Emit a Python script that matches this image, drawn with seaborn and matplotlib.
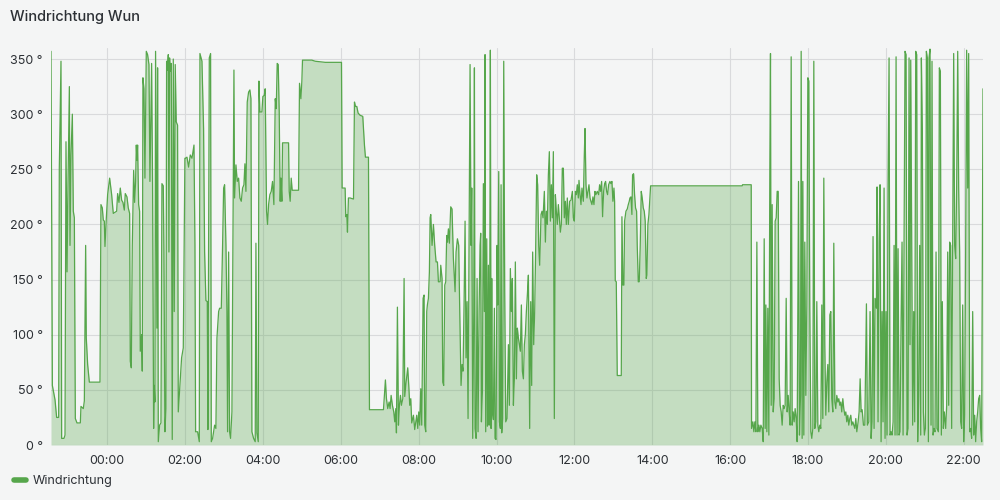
import pandas as pd
import seaborn as sns
import matplotlib.pyplot as plt
import matplotlib.dates as mdates
from matplotlib.lines import Line2D

# minutes relative to midnight (negative = previous evening) and wind direction in degrees
minutes = [
    -86.8, -84.7, -80.6, -78.1, -75, -74, -71.4, -70.4, -66.8, -65.2, -63.7, -62.1, -60.6, -58.5, -57.5, -56,
    -53.9, -52.4, -50.8, -49.3, -46.7, -41.6, -40.6, -37, -35.4, -33.4, -32.4, -30.3, -27.7, -11.3, -9.8, -7.7,
    -6.2, -4.6, -3.6, -1.6, 0.5, 3.6, 6.7, 9.2, 14.4, 15.9, 18, 20, 22.1, 24.1, 26.2, 27.7, 30.3, 32.3, 34.4,
    35.4, 37, 38.5, 40.6, 42.1, 43.6, 44.7, 45.7, 46.7, 48.3, 49.8, 50.8, 52.9, 53.9, 54.9, 56.5, 58, 60.1,
    62.1, 64.2, 65.7, 68.3, 69.8, 71.4, 72.4, 73.4, 74.4, 76.5, 77.5, 78.6, 80.6, 82.7, 84.2, 86.3, 87.3, 88.8,
    90.4, 91.4, 92.9, 94, 95, 96, 97, 98.6, 100.1, 101.7, 103.2, 104.7, 106.3, 108.3, 109.4, 114.5, 117.1, 119.6,
    120.2, 122.8, 125.3, 127.9, 130.5, 133.6, 135.1, 136.1, 139.2, 141.8, 142.8, 145.9, 148.4, 150, 152, 154.1,
    155.1, 157.2, 159.2, 160.3, 162.3, 165.4, 167.4, 169, 171.6, 173.1, 175.7, 177.7, 179.3, 180.8, 182.9, 184.4,
    185.4, 187, 188.5, 190, 192.1, 194.1, 195.2, 196.2, 198.3, 200.3, 202.4, 204.4, 206.5, 208.5, 210.6, 212.1,
    213.7, 215.7, 217.8, 219.8, 221.4, 222.9, 225.5, 228, 229.1, 230.6, 232.7, 233.7, 235.2, 238.3, 239.8, 241.9,
    243.4, 245.5, 247, 248.6, 250.6, 252.7, 254.7, 256.8, 258.9, 260.4, 261.9, 263.5, 265, 266.5, 267.6, 269.1,
    270.1, 279.4, 280.4, 281.9, 283.5, 285, 294.8, 296.3, 298.4, 299.9, 300.9, 315.3, 320.5, 335.9,
    361, 362, 366.6, 367.6, 369.2, 370.2, 371.7, 374.3, 379.5, 381, 382.5, 384.6, 386.6, 389.7, 393.8, 396.4,
    397.9, 402.6, 404.1, 425.7, 428.7, 430.3, 432.3, 434.4, 435.9, 437.5, 439.5, 441.6, 443.1, 444.7, 445.7, 447.2,
    448.8, 450.3, 451.9, 453.4, 455.5, 457.5, 458.5, 460.6, 463.1, 464.7, 466.2, 467.8, 469.3, 471.9, 473.9, 475.5,
    477, 478.6, 480.1, 481.6, 483.2, 484.7, 486.8, 488.3, 489.3, 490.9, 492.4, 493.4, 495, 496.5, 497.6, 498.6,
    500.6, 502.7, 504.7, 506.8, 508.9, 510.4, 513, 514, 516, 517.1, 518.6, 520.2, 521.7, 523.2, 524.3, 525.8,
    527.3, 529.4, 531.4, 533.5,
    536.1, 537.6, 539.7, 541.7, 543.3, 545.3, 546.9, 548.4, 550, 551.5, 553, 554.6, 556.1, 557.7, 559.2, 560.7,
    561.8, 563.3, 564.9, 565.9, 566.9, 568.5, 570, 571.5, 573.1, 574.6, 575.6, 576.7, 578.2, 579.7, 581.3, 582.3,
    583.3, 584.9, 585.9, 587.5, 588.5, 589.5, 590.5, 591.6, 592.6, 593.6, 595.2, 596.7, 597.7, 599.3, 600.8, 601.8,
    603.4, 604.4, 605.9, 607, 608, 609.5, 611.1, 612.6, 614.2, 616.2, 618.3, 619.8, 621.3, 622.9, 624.4, 626,
    627.5, 629, 630.6, 632.1, 633.7, 635.2, 636.7, 638.3, 639.8, 641.4, 642.9, 644.4, 646, 647.5, 649.1, 651.1,
    652.7, 654.2, 655.7, 657.3, 658.8, 660.4, 661.9, 663.4, 665, 666.5, 668.6, 670.1, 671.7, 673.7, 675.3, 676.8,
    678.3, 679.9, 681.4, 683, 684.5, 686, 687.6, 689.1, 690.7, 692.2, 693.7, 695.3, 696.8, 698.4, 699.9, 701.4,
    703, 704.5, 706.1, 707.6, 709.1, 710.7, 712.7, 714.8, 716.9, 718.4, 719.9, 721.5, 723, 724.5, 726.1, 727.1,
    728.7, 730.2, 731.7, 733.8, 735.3, 736.4, 737.9, 739.4, 741,
    742.5, 744.1, 745.5, 747.1, 748.6, 750.2, 751.7, 753.2, 755.3, 757.4, 758.9, 760.4, 762, 763.5, 765.1, 766.6,
    768.1, 769.7, 771.2, 772.8, 774.8, 776.4, 777.9, 779.4, 781, 782, 783, 784.6, 786.1, 792.3, 793.3, 794.8,
    796.4, 797.4, 799.5, 801.5, 803.1, 804.6, 805.6, 807.2, 808.7, 809.7, 811.3, 812.8, 814.3, 815.9, 816.9, 818.5,
    820, 821.5, 823.1, 824.6, 826.2, 827.7, 829.2, 830.8, 831.8, 833.3, 834.9, 836.4, 837.5,
    978.7, 979.2, 992.6, 993.1, 995.1, 996.7, 998.2, 999.8, 1001.3, 1002.8, 1004.4, 1005.9, 1007.5, 1009.5,
    1011.1, 1012.6, 1014.1, 1015.2, 1016.7, 1018.2, 1019.8, 1021.3, 1022.3, 1023.4, 1024.9, 1026.5, 1028, 1029.5,
    1031.1, 1032.6, 1034.2, 1035.7, 1037.2, 1038.8, 1040.3, 1041.9, 1043.4, 1044.9, 1046.5, 1048, 1049.6, 1051.1,
    1052.6, 1054.2, 1055.7, 1057.3, 1058.8, 1060.3, 1061.9, 1063.4, 1064.5, 1065.5, 1067, 1068.6, 1069.6, 1071.1,
    1072.2, 1073.7, 1075.2, 1076.8, 1078.3, 1079.9, 1081.4, 1082.9, 1084.5, 1086, 1087.6, 1089.1, 1090.6, 1092.2,
    1093.7, 1095.3, 1096.8, 1098.3, 1099.9, 1101.4, 1103, 1104.5, 1106, 1107.6, 1109.1, 1110.7, 1112.2, 1113.8,
    1115.3, 1116.8, 1118.4, 1119.9, 1121.5, 1123, 1124.5, 1126.1, 1127.6, 1129.2, 1130.7, 1132.2, 1133.8, 1135.3,
    1136.9, 1138.4, 1139.9, 1141.5, 1143, 1144.6, 1146.1, 1147.6, 1149.2, 1150.7, 1152.3, 1153.8, 1155.4, 1157.4,
    1158.9, 1160.5, 1162, 1163.6, 1165.6, 1167.7,
    1170.2, 1171.7, 1173.8, 1175.8, 1177.4, 1178.9, 1180.4, 1182, 1183.5, 1185.6, 1186.6, 1188.1, 1189.7, 1191.2,
    1192.8, 1194.3, 1195.8, 1197.4, 1198.9, 1200.5, 1202, 1203.5, 1205.1, 1206.6, 1208.2, 1209.7, 1211.3, 1212.8,
    1214.3, 1215.9, 1217.4, 1219, 1220.5, 1222, 1223.6, 1225.1, 1226.7, 1228.2, 1229.7, 1231.3, 1232.8, 1234.4,
    1235.9, 1237.4, 1238.5, 1240, 1241.5, 1243.1, 1244.6, 1246.2, 1247.7, 1249.2, 1250.8, 1252.3, 1253.9, 1254.9,
    1256.4, 1258, 1259.5, 1261.1, 1262.6, 1264.1, 1265.7, 1266.7, 1268.2, 1269.8, 1271.3, 1272.9, 1274.4, 1275.9,
    1277.5, 1279, 1281.1, 1282.6, 1284.2, 1285.7, 1287.2, 1288.8, 1290.3, 1292.4, 1293.9, 1295.5, 1297, 1298.5,
    1300.1, 1301.6, 1303.2, 1304.7, 1306.2, 1307.8, 1309.3, 1310.9, 1312.4, 1313.9, 1315.5, 1317, 1318.6, 1320.1,
    1321.6, 1323.2, 1324.7, 1326.3, 1327.8, 1329.4, 1330.9, 1332.4, 1334, 1335.5, 1337.1, 1338.6, 1340.1, 1341.7,
    1343.2, 1344.8, 1346.3, 1347.8, 1349.9,
]

wind_dir = [
    357, 54, 41, 25, 25, 251, 348, 6, 6, 9, 275, 157, 236, 325, 181, 263,
    300, 212, 206, 24, 20, 20, 35, 33, 40, 181, 97, 73, 57, 57, 218, 215,
    204, 203, 180, 205, 227, 242, 227, 210, 212, 228, 220, 233, 222, 220, 213, 228, 225, 215, 210,
    76, 70, 181, 249, 220, 239, 272, 258, 272, 218, 212, 85, 100, 67, 333, 323, 242, 357,
    354, 345, 239, 346, 236, 15, 54, 39, 357, 106, 342, 3, 18, 20, 237, 235, 175, 12,
    33, 348, 340, 354, 175, 351, 339, 346, 5, 350, 121, 345, 293, 290, 30, 79, 88, 260,
    260, 261, 252, 263, 260, 272, 181, 12, 12, 3, 355, 348, 287, 175, 131, 130,
    14, 351, 355, 3, 6, 18, 15, 97, 121, 124, 124, 181, 233, 236, 181, 121,
    12, 175, 12, 6, 30, 221, 340, 224, 254, 239, 242, 224, 221, 233, 236, 255,
    230, 311, 320, 322, 314, 12, 6, 3, 183, 11, 3, 330, 302, 302, 316, 317,
    323, 212, 200, 218, 227, 230, 239, 218, 314, 305, 346, 345, 302, 221, 242, 221,
    274, 274, 230, 221, 242, 231, 231, 328, 314, 330, 349, 349, 348, 347,
    347, 233, 233, 207, 209, 193, 224, 224, 223, 311, 307, 307, 301, 299, 298, 272,
    261, 261, 32, 32, 59, 42, 33, 39, 33, 45, 36, 30, 21, 33, 11, 125,
    18, 36, 45, 36, 42, 151, 44, 57, 70, 54, 36, 42, 20, 27, 14, 21,
    27, 15, 30, 18, 51, 18, 133, 136, 18, 12, 121, 127, 133, 157, 206, 209,
    181, 200, 181, 166, 166, 148, 148, 163, 151, 57, 54, 145, 148, 190, 184, 196,
    183, 216, 214, 169,
    139, 175, 187, 181, 121, 54, 73, 67, 130, 203, 79, 130, 24, 187, 345, 181,
    233, 6, 121, 342, 15, 6, 151, 12, 121, 181, 192, 21, 48, 237, 121, 354,
    12, 187, 17, 163, 18, 121, 358, 15, 151, 30, 23, 124, 6, 5, 181, 127,
    248, 21, 15, 236, 11, 24, 348, 139, 21, 24, 91, 36, 160, 121, 151, 36,
    60, 166, 60, 106, 97, 91, 85, 127, 67, 60, 91, 100, 121, 136, 154, 15,
    130, 54, 175, 91, 121, 181, 245, 236, 181, 163, 209, 212, 206, 230, 184, 212,
    200, 245, 266, 203, 236, 206, 266, 24, 227, 212, 200, 218, 206, 193, 200, 251,
    251, 206, 221, 200, 224, 200, 221, 222, 230, 206, 203, 230, 227, 236, 224, 240,
    227, 218, 233, 221, 263, 287, 236, 224, 230,
    236, 224, 221, 218, 225, 218, 230, 227, 230, 227, 236, 230, 239, 207, 230, 237,
    239, 230, 227, 236, 239, 237, 239, 221, 233, 221, 149, 148, 63, 63, 207, 145,
    145, 203, 212, 214, 218, 221, 224, 225, 209, 245, 246, 227, 215, 212, 181, 148,
    148, 181, 230, 224, 215, 212, 203, 151, 154, 200, 209, 224, 235,
    235, 236, 236, 15, 21, 12, 21, 12, 184, 12, 18, 12, 18, 15,
    3, 187, 15, 127, 12, 124, 9, 251, 355, 36, 218, 30, 42, 203,
    206, 230, 230, 60, 36, 30, 18, 36, 33, 36, 133, 30, 45, 30,
    18, 352, 18, 30, 21, 33, 24, 3, 133, 239, 9, 45, 357, 6,
    239, 9, 184, 45, 127, 333, 330, 124, 12, 6, 15, 348, 15, 21,
    130, 18, 12, 18, 15, 127, 24, 242, 91, 27, 57, 73, 30, 118,
    121, 42, 30, 183, 39, 33, 45, 39, 42, 36, 39, 30, 42, 33,
    27, 30, 21, 27, 18, 24, 27, 18, 21, 18, 15, 24, 12, 21,
    30, 60, 30, 32, 18, 18,
    128, 18, 21, 121, 6, 21, 189, 15, 133, 124, 234, 21, 184, 236,
    3, 121, 21, 233, 6, 121, 9, 236, 351, 9, 12, 9, 21, 181,
    9, 352, 9, 178, 9, 12, 112, 184, 9, 181, 357, 354, 9, 15,
    351, 91, 349, 187, 18, 121, 21, 357, 354, 3, 45, 181, 9, 351,
    287, 30, 9, 15, 357, 351, 3, 351, 359, 18, 348, 9, 15, 12,
    175, 15, 12, 342, 339, 9, 130, 15, 30, 15, 36, 175, 36, 184,
    181, 15, 184, 355, 181, 169, 236, 357, 233, 175, 21, 15, 127, 3,
    27, 181, 358, 233, 355, 12, 15, 6, 121, 9, 27, 3, 21, 30,
    42, 45, 15, 3, 323,
]

y_ticks = [0, 50, 100, 150, 200, 250, 300, 350]
series_name = "Windrichtung"
title = "Windrichtung Wun"

green = "#56A64B"
bg = "#F4F5F5"
text_col = "#2c3035"

sns.set_style("whitegrid")
plt.rcParams["font.family"] = ["Inter", "DejaVu Sans"]

base = pd.Timestamp("2024-06-02")
df = pd.DataFrame({"time": base + pd.to_timedelta(minutes, unit="min"), "deg": wind_dir})

fig, ax = plt.subplots(figsize=(10, 5), dpi=100)
fig.patch.set_facecolor(bg)
ax.set_facecolor(bg)
fig.subplots_adjust(left=0.051, right=0.983, bottom=0.11, top=0.904)

sns.lineplot(data=df, x="time", y="deg", ax=ax, color=green, linewidth=0.9, legend=False)
ax.fill_between(df["time"], 0, df["deg"], color=green, alpha=0.3, linewidth=0)

ax.set_xlim(df["time"].iloc[0], df["time"].iloc[-1])
ax.set_ylim(0, 360)
ax.set_yticks(y_ticks)
ax.set_yticklabels([f"{v} °" for v in y_ticks])
ax.xaxis.set_major_locator(mdates.HourLocator(byhour=range(0, 24, 2)))
ax.xaxis.set_major_formatter(mdates.DateFormatter("%H:%M"))
ax.set_xlabel("")
ax.set_ylabel("")

ax.grid(True, color="#d9dadc", linewidth=0.8)
ax.tick_params(axis="both", length=0, labelsize=9, colors=text_col)
ax.tick_params(axis="y", pad=6)
ax.tick_params(axis="x", pad=7)
for s in ax.spines.values():
    s.set_visible(False)

fig.text(0.01, 0.966, title, fontsize=10.5, fontweight="medium", color=text_col, va="center")

handle = Line2D([], [], color=green, linewidth=4, solid_capstyle="round")
fig.legend([handle], [series_name], loc="center left", bbox_to_anchor=(0.003, 0.038),
           frameon=False, handlelength=0.95, handletextpad=0.55, fontsize=9, labelcolor=text_col)

fig.savefig("out.png", dpi=100, facecolor=bg)
